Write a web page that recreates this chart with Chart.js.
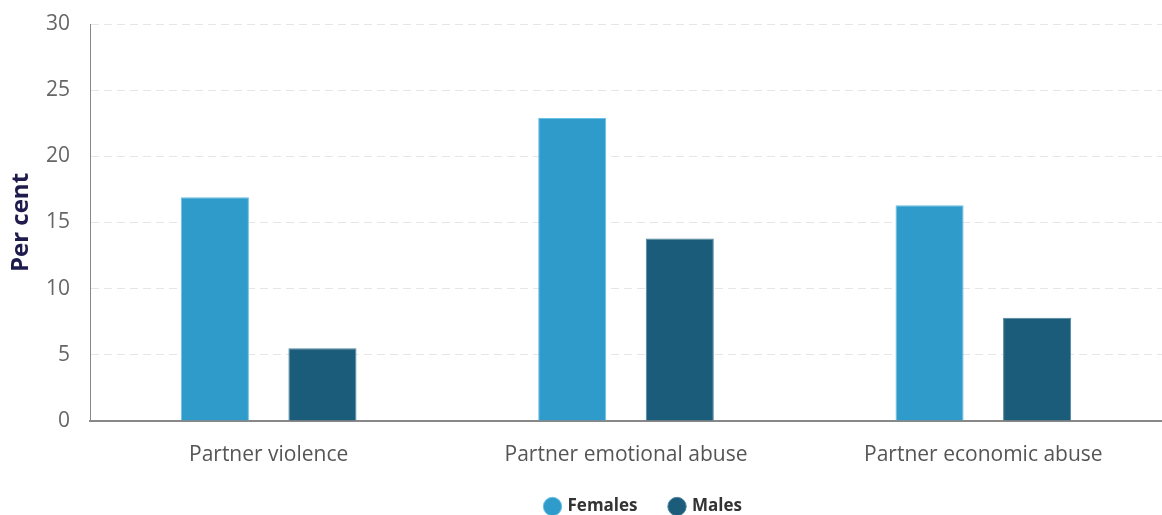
<!DOCTYPE html>
<html>
<head>
<meta charset="utf-8">
<script src="https://cdn.jsdelivr.net/npm/chart.js@4/dist/chart.umd.min.js"></script>
<style>
  html, body { margin: 0; padding: 0; background: #fff; }
  #wrap { width: 1162px; height: 515px; position: relative; }
</style>
</head>
<body>
<div id="wrap"><canvas id="chart"></canvas></div>
<script>
const categories = ['Partner violence', 'Partner emotional abuse', 'Partner economic abuse'];
const females = [16.9, 22.9, 16.3];
const males = [5.5, 13.8, 7.8];
const yTicks = [0, 5, 10, 15, 20, 25, 30];

// shrink the legend box so it sits near the bottom edge, and nudge it right
const legendFit = {
    id: 'legendFit',
    beforeInit(chart) {
        const fit = chart.legend.fit;
        chart.legend.fit = function () {
            fit.call(this);
            this.height = 50;
        };
    },
    afterLayout(chart) {
        chart.legend.left += 122;
    }
};

const ctx = document.getElementById('chart');
new Chart(ctx, {
    type: 'bar',
    data: {
        labels: categories,
        datasets: [{
            label: 'Females',
            data: females,
            backgroundColor: '#2e9bcb',
            borderColor: '#6cc0e6',
            borderWidth: 1
        },
        {
            label: 'Males',
            data: males,
            backgroundColor: '#1a5c7a',
            borderColor: '#4f86a0',
            borderWidth: 1
        }]
    },
    options: {
        responsive: true,
        maintainAspectRatio: false,
        animation: false,
        categoryPercentage: 0.602,
        barPercentage: 0.633,
        layout: { padding: { top: 24, right: 0, left: 4, bottom: 0 } },
        plugins: {
            legend: {
                position: 'bottom',
                labels: {
                    usePointStyle: true,
                    pointStyle: 'circle',
                    boxWidth: 13,
                    boxHeight: 13,
                    padding: 33,
                    color: '#333',
                    font: { family: 'Open Sans', size: 17, weight: 'bold' }
                }
            },
            tooltip: { enabled: false }
        },
        scales: {
            x: {
                afterFit: axis => { axis.height = 44; },
                grid: { display: false, drawTicks: false },
                border: { color: '#888', width: 2 },
                ticks: {
                    color: '#555',
                    padding: 21,
                    font: { family: 'Open Sans', size: 21 }
                }
            },
            y: {
                min: 0,
                max: 30,
                afterFit: axis => {
                    axis.width = 86;
                    axis.paddingTop = 0;
                    axis.paddingBottom = 0;
                },
                afterBuildTicks: axis => { axis.ticks = yTicks.map(v => ({ value: v })); },
                grid: { color: '#e6e6e6', drawTicks: false },
                border: { color: '#888', width: 1, dash: [8, 5] },
                ticks: {
                    color: '#666',
                    padding: 20,
                    font: { family: 'Open Sans', size: 21 }
                },
                title: {
                    display: true,
                    text: 'Per cent',
                    color: '#1f1b4d',
                    padding: { top: 3, bottom: 12 },
                    font: { family: 'Open Sans', size: 24, weight: 'bold' }
                }
            }
        }
    },
    plugins: [legendFit]
});
</script>
</body>
</html>
